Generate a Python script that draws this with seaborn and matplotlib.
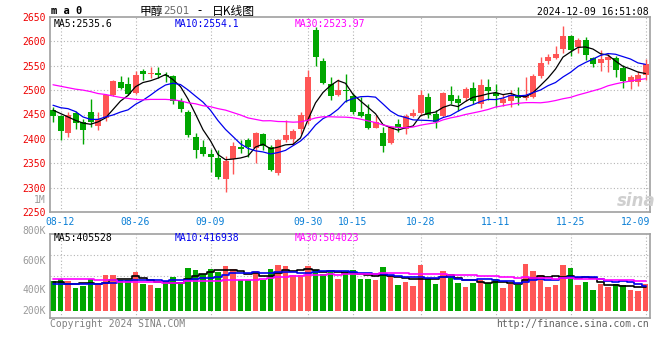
import numpy as np
import pandas as pd
import seaborn as sns
import matplotlib
matplotlib.use("Agg")
import matplotlib.pyplot as plt
from matplotlib.transforms import blended_transform_factory

# trading days shown (one candle each)
dates = ["08-09",
         "08-12", "08-13", "08-14", "08-15", "08-16",
         "08-19", "08-20", "08-21", "08-22", "08-23",
         "08-26", "08-27", "08-28", "08-29", "08-30",
         "09-02", "09-03", "09-04", "09-05", "09-06",
         "09-09", "09-10", "09-11", "09-12", "09-13",
         "09-18", "09-19", "09-20",
         "09-23", "09-24", "09-25", "09-26", "09-27",
         "09-30",
         "10-08", "10-09", "10-10", "10-11",
         "10-14", "10-15", "10-16", "10-17", "10-18",
         "10-21", "10-22", "10-23", "10-24", "10-25",
         "10-28", "10-29", "10-30", "10-31", "11-01",
         "11-04", "11-05", "11-06", "11-07", "11-08",
         "11-11", "11-12", "11-13", "11-14", "11-15",
         "11-18", "11-19", "11-20", "11-21", "11-22",
         "11-25", "11-26", "11-27", "11-28", "11-29",
         "12-02", "12-03", "12-04", "12-05", "12-06",
         "12-09"]

opens = [2460, 2446, 2412, 2454, 2434, 2456, 2426, 2442, 2490, 2517,
         2513, 2494, 2539, 2533, 2536, 2532, 2529, 2478, 2455, 2404,
         2383, 2370, 2360, 2317, 2359, 2383, 2397, 2381, 2410, 2383,
         2330, 2397, 2400, 2420, 2437, 2624, 2560, 2512, 2490, 2501,
         2488, 2455, 2452, 2423, 2412, 2391, 2430, 2420, 2446, 2453,
         2486, 2452, 2446, 2491, 2481, 2483, 2505, 2472, 2506, 2495,
         2474, 2477, 2491, 2483, 2485, 2530, 2560, 2566, 2584, 2612,
         2589, 2602, 2565, 2556, 2561, 2565, 2546, 2516, 2517, 2531]
highs = [2466, 2450, 2456, 2458, 2440, 2481, 2456, 2493, 2521, 2528,
         2526, 2540, 2543, 2547, 2547, 2537, 2532, 2484, 2459, 2413,
         2397, 2379, 2378, 2365, 2394, 2398, 2402, 2415, 2412, 2387,
         2400, 2439, 2420, 2456, 2542, 2629, 2566, 2526, 2522, 2534,
         2495, 2485, 2472, 2449, 2425, 2427, 2440, 2452, 2461, 2501,
         2495, 2460, 2496, 2508, 2491, 2506, 2517, 2522, 2523, 2512,
         2492, 2500, 2507, 2527, 2533, 2567, 2574, 2590, 2631, 2614,
         2607, 2608, 2568, 2582, 2575, 2569, 2551, 2531, 2540, 2563]
lows = [2434, 2398, 2404, 2421, 2390, 2425, 2418, 2437, 2488, 2503,
        2490, 2493, 2521, 2524, 2524, 2517, 2471, 2455, 2403, 2361,
        2365, 2332, 2318, 2291, 2328, 2372, 2362, 2351, 2378, 2334,
        2326, 2393, 2388, 2410, 2431, 2549, 2512, 2480, 2488, 2475,
        2452, 2444, 2420, 2422, 2374, 2390, 2415, 2411, 2445, 2447,
        2443, 2423, 2444, 2471, 2457, 2478, 2472, 2464, 2480, 2466,
        2468, 2466, 2470, 2480, 2483, 2525, 2554, 2563, 2576, 2570,
        2576, 2561, 2548, 2540, 2538, 2526, 2505, 2503, 2508, 2521]
closes = [2447, 2416, 2449, 2432, 2418, 2435, 2440, 2490, 2518, 2505,
          2492, 2530, 2533, 2536, 2532, 2529, 2477, 2462, 2408, 2378,
          2369, 2363, 2321, 2355, 2385, 2380, 2384, 2412, 2385, 2337,
          2397, 2408, 2417, 2450, 2526, 2568, 2515, 2488, 2501, 2498,
          2455, 2447, 2423, 2435, 2386, 2424, 2422, 2447, 2453, 2491,
          2449, 2435, 2495, 2478, 2474, 2502, 2478, 2510, 2498, 2487,
          2481, 2491, 2483, 2489, 2530, 2555, 2567, 2575, 2612, 2582,
          2602, 2572, 2553, 2564, 2568, 2541, 2518, 2526, 2532, 2553]
volumes = [462, 478, 462, 417, 428, 478, 433, 505, 505, 471,
           471, 523, 444, 438, 417, 456, 490, 456, 551, 539,
           512, 546, 523, 564, 546, 467, 467, 530, 471, 546,
           573, 562, 505, 505, 566, 539, 512, 523, 478, 530,
           539, 478, 478, 471, 557, 494, 438, 456, 428, 573,
           483, 444, 530, 494, 451, 422, 451, 471, 451, 478,
           417, 444, 433, 580, 530, 501, 422, 438, 573, 553,
           438, 456, 404, 444, 422, 444, 438, 404, 395, 444]  # thousands

# moving-average values at the start of the window
ma5_head = [2459, 2452, 2445, 2438]
ma10_head = [2469, 2464, 2462, 2456, 2445, 2440, 2440, 2445, 2449]
ma30_head = [2511, 2508, 2505, 2502, 2500, 2497, 2493, 2491, 2488, 2485,
             2483, 2481, 2480, 2481, 2481, 2481, 2480, 2478, 2474, 2472,
             2468, 2466, 2462, 2459, 2454, 2449, 2443, 2440, 2437]
vol_ma5_head = [455, 455, 444, 440]
vol_ma10_head = [446, 444, 442, 442, 442, 444, 446, 448, 450]
vol_ma30_head = [478, 478, 478, 478, 478, 478, 471, 471, 471, 456,
                 456, 456, 456, 456, 456, 451, 451, 451, 460, 460,
                 460, 460, 460, 467, 467, 467, 470, 472, 475]

tick_labels = ["08-12", "08-26", "09-09", "09-30", "10-15", "10-28", "11-11", "11-25", "12-09"]
price_ticks = [2250, 2300, 2350, 2400, 2450, 2500, 2550, 2600, 2650]
vol_tick_values = [800, 600, 400, 200]
vol_tick_labels = ["800K", "600K", "400K", "200K"]
ma_texts = ["MA5:2535.6", "MA10:2554.1", "MA30:2523.97"]
vol_ma_texts = ["MA5:405528", "MA10:416938", "MA30:504023"]
title_parts = ["甲醇", "2501", "-", "日K线图"]
stamp = "2024-12-09 16:51:08"

RED = "#ff5555"
GREEN = "#00a600"
MA_COLORS = ["black", "#0000ee", "#ff00ff"]
GRID = "#b4b4b4"
MONO = "DejaVu Sans Mono"


def moving_average(values, window, head):
    s = pd.Series(values, dtype=float).rolling(window).mean()
    s.iloc[:len(head)] = head
    return s.values


sns.set_theme(style="white")
plt.rcParams["font.family"] = [MONO, "DejaVu Sans"]

W, H = 660, 360
fig = plt.figure(figsize=(6.6, 3.6), dpi=100)
fig.patch.set_facecolor("white")


def px_axes(l, t, r, b):
    return fig.add_axes([l / W, 1 - b / H, (r - l) / W, (b - t) / H])


def ftext(x, y, s, **kw):
    kw.setdefault("va", "center")
    return fig.text(x / W, 1 - y / H, s, **kw)


ax = px_axes(50, 17, 650, 212)
axv = px_axes(50, 234, 650, 318)

x = np.arange(len(dates))
o = np.array(opens, float)
c = np.array(closes, float)
up = c >= o
cols = np.where(up, RED, GREEN)
tick_idx = [dates.index(t) for t in tick_labels]

# ---- price panel
for v in price_ticks[1:-1]:
    ax.axhline(v, color=GRID, ls=(0, (1, 2)), lw=0.8, zorder=0)
for i in tick_idx:
    ax.axvline(i, color=GRID, ls=(0, (1, 2)), lw=0.8, zorder=0)

ax.vlines(x, lows, highs, colors=cols, lw=1, zorder=2)
ax.bar(x, np.maximum(np.abs(c - o), 1.6), bottom=np.minimum(o, c), width=0.8,
       color=cols, linewidth=0, zorder=3)

price_mas = [moving_average(closes, 5, ma5_head),
             moving_average(closes, 10, ma10_head),
             moving_average(closes, 30, ma30_head)]
for ma, col in zip(price_mas, MA_COLORS):
    sns.lineplot(x=x, y=ma, ax=ax, color=col, linewidth=0.9, legend=False, zorder=4)

ax.set_xlim(-0.4, len(dates) - 0.4)
ax.set_ylim(price_ticks[0], price_ticks[-1])
ax.set_xticks([])
ax.set_yticks(price_ticks)
ax.set_yticklabels([str(v) for v in price_ticks])
ax.tick_params(axis="y", length=0, pad=3, labelcolor="#ee0000", labelsize=7)
for t in ax.get_yticklabels():
    t.set_fontfamily(MONO)
ax.set_xlabel("")
ax.set_ylabel("")

# date labels between the panels
tr = blended_transform_factory(ax.transData, ax.transAxes)
for lab, i in zip(tick_labels, tick_idx):
    if i == len(dates) - 1:
        ax.text(ax.get_xlim()[1], -0.052, lab, transform=tr, ha="right", va="center",
                color="#0a7fd6", fontsize=7, family=MONO, clip_on=False)
    else:
        ax.text(i, -0.052, lab, transform=tr, ha="center", va="center",
                color="#0a7fd6", fontsize=7, family=MONO, clip_on=False)

# ---- volume panel
vol = np.array(volumes, float) * 1000
vol_floor = 261e3
vlo, vhi = 213e3, 781e3
for f in (0.25, 0.5, 0.75):
    axv.axhline(vlo + f * (vhi - vlo), color=GRID, ls=(0, (1, 2)), lw=0.8, zorder=0)
for i in tick_idx:
    axv.axvline(i, color=GRID, ls=(0, (1, 2)), lw=0.8, zorder=0)

axv.bar(x, vol - vol_floor, bottom=vol_floor, width=0.76, color=cols, linewidth=0, zorder=2)
vol_mas = [moving_average(volumes, 5, vol_ma5_head),
           moving_average(volumes, 10, vol_ma10_head),
           moving_average(volumes, 30, vol_ma30_head)]
for ma, col in zip(vol_mas, MA_COLORS):
    sns.lineplot(x=x, y=ma * 1000, ax=axv, color=col, linewidth=1.2, legend=False,
                 drawstyle="steps-mid", zorder=4)

axv.set_xlim(ax.get_xlim())
axv.set_ylim(vlo, vhi)
axv.set_xticks([])
axv.set_yticks([])
axv.set_xlabel("")
axv.set_ylabel("")
trv = blended_transform_factory(axv.transAxes, axv.transData)
for v, lab in zip(vol_tick_values, vol_tick_labels):
    axv.text(-0.007, max(v * 1000, vol_floor), lab, transform=trv, ha="right", va="center",
             color="#9a9a9a", fontsize=7, family=MONO, clip_on=False)

for a in (ax, axv):
    for sp in a.spines.values():
        sp.set_visible(True)
        sp.set_color("#a0a0a0")
        sp.set_linewidth(1.2)
    a.set_facecolor("white")

# ---- texts
for s, xp, col in zip(ma_texts, (54, 175, 295), MA_COLORS):
    ftext(xp, 24, s, color=col, fontsize=7, family=MONO)
for s, xp, col in zip(vol_ma_texts, (54, 175, 295), MA_COLORS):
    ftext(xp, 238, s, color=col, fontsize=7, family=MONO)

ftext(46, 200, "1M", ha="right", color="#9a9a9a", fontsize=7, family=MONO)
ftext(51, 11, "m a 0", color="black", fontsize=7.5, family=MONO, weight="bold")
cjk = ["Noto Sans CJK SC", "DejaVu Sans"]
ftext(140, 11, title_parts[0], color="black", fontsize=8.5, family=cjk)
ftext(163, 11, title_parts[1], color="#6a6a6a", fontsize=7.5, family="DejaVu Sans")
ftext(197, 11, title_parts[2], color="black", fontsize=8.5, family=cjk)
ftext(212, 11, title_parts[3], color="black", fontsize=8.5, family=cjk)
ftext(649, 12, stamp, ha="right", color="black", fontsize=7, family=MONO)
ftext(50, 324, "Copyright 2024 SINA.COM", color="#808080", fontsize=7, family=MONO)
ftext(649, 324, "http://finance.sina.com.cn", ha="right", color="#606060", fontsize=7, family=MONO)
ftext(636, 201, "sina", ha="center", color="#cfcfcf", fontsize=12, weight="bold",
      style="italic", family="DejaVu Sans")

fig.savefig("out.png", dpi=100, facecolor="white")
